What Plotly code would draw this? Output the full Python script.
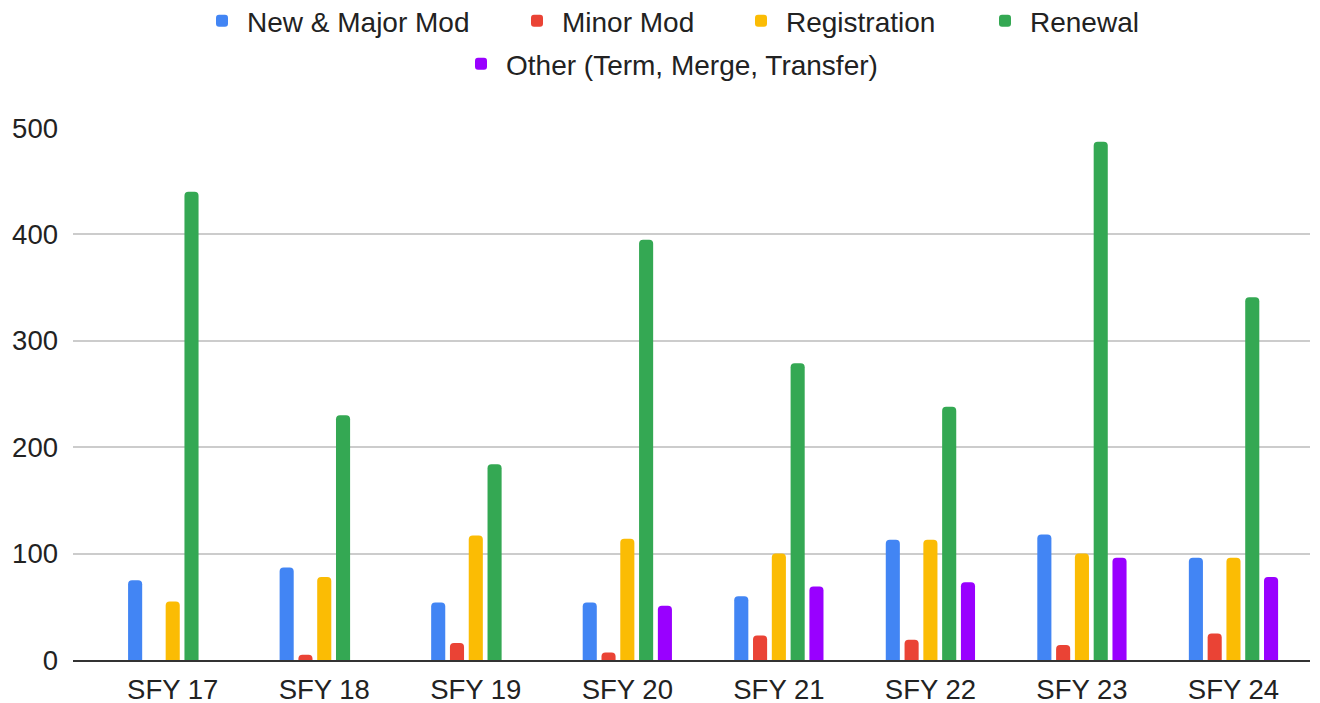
import plotly.graph_objects as go

categories = ["SFY 17", "SFY 18", "SFY 19", "SFY 20", "SFY 21", "SFY 22", "SFY 23", "SFY 24"]
new_major_mod = [75, 87, 54, 54, 60, 113, 118, 96]
minor_mod = [None, 5, 16, 7, 23, 19, 14, 25]
registration = [55, 78, 117, 114, 100, 113, 100, 96]
renewal = [440, 230, 184, 395, 279, 238, 487, 341]
other = [None, None, None, 51, 69, 73, 96, 78]

# (name, values, colour, legend id, legend left px, legend row centre px) in page pixels
series = [
    ("New & Major Mod", new_major_mod, "#4285F4", "legend", 200, 21),
    ("Minor Mod", minor_mod, "#EA4335", "legend2", 515, 21),
    ("Registration", registration, "#FBBC04", "legend3", 739, 21),
    ("Renewal", renewal, "#34A853", "legend4", 983, 21),
    ("Other (Term, Merge, Transfer)", other, "#9900FF", "legend5", 459, 64),
]

OFF = 8  # page body margin
W, H = 1320, 703
font_family = "Liberation Sans, Arial, sans-serif"

fig = go.Figure()
legends = {}
for name, vals, color, lg, lx, ly in series:
    fig.add_trace(go.Bar(x=categories, y=vals, name=name, showlegend=True,
                         marker=dict(color=color, line=dict(width=0)), legend=lg))
    legends[lg] = dict(orientation="h", xref="container", yref="container",
                       x=(lx - OFF - 3) / W, xanchor="left",
                       y=1 - (ly - OFF) / H, yanchor="middle", itemwidth=40,
                       font=dict(family=font_family, size=28, color="#222222"),
                       bgcolor="rgba(0,0,0,0)")

fig.update_layout(
    width=W, height=H, showlegend=True,
    margin=dict(l=65, r=18, t=120, b=51, autoexpand=False),
    paper_bgcolor="white", plot_bgcolor="white",
    barmode="group", bargap=0.38, bargroupgap=0.25, barcornerradius=4,
    font=dict(family=font_family, size=27.5, color="#222222"),
    xaxis=dict(range=[-0.658, 7.505], showline=True, linecolor="#333333", linewidth=2,
               showgrid=False, ticks="", automargin=False, ticklabelstandoff=4,
               tickfont=dict(size=27.5, color="#222222")),
    yaxis=dict(range=[0, 500], tickvals=[0, 100, 200, 300, 400, 500], showgrid=True,
               gridcolor="#CCCCCC", gridwidth=1.5, zeroline=False, ticks="", automargin=False,
               ticklabelstandoff=14, tickfont=dict(size=27.5, color="#222222")),
    **legends,
)

fig.write_html("out.html")
